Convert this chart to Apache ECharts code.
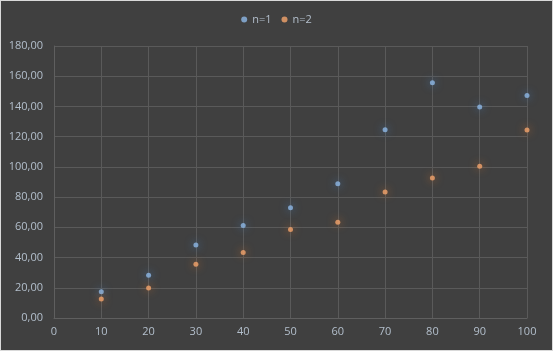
<!DOCTYPE html>
<html>
<head>
<meta charset="UTF-8">
<title>scatter</title>
<style>
html,body{margin:0;padding:0;background:#d9d9d9;}
#chart{width:551px;height:349px;border:1px solid #d9d9d9;background:#404040;}
</style>
</head>
<body>
<div id="chart"></div>
<script src="https://cdn.jsdelivr.net/npm/echarts@6/dist/echarts.min.js"></script>
<script>
var xValues = [10, 20, 30, 40, 50, 60, 70, 80, 90, 100];
var n1 = [17.3, 28.3, 48.3, 61.2, 73.0, 88.8, 124.5, 155.7, 139.6, 147.2];
var n2 = [12.6, 19.8, 35.6, 43.4, 58.6, 63.4, 83.3, 92.6, 100.4, 124.4];
var seriesNames = ['n=1', 'n=2'];

function pairs(ys){
    var out = [];
    for (var i = 0; i < xValues.length; i++) out.push([xValues[i], ys[i]]);
    return out;
}

var myChart = echarts.init(document.getElementById('chart'));
var labelColor = '#b3bfcc';
var option = {
    backgroundColor: '#404040',
    textStyle: {fontFamily: 'Open Sans'},
    legend: {
        top: 8,
        left: 'center',
        itemWidth: 6,
        itemHeight: 6,
        itemGap: 10,
        icon: 'circle',
        textStyle: {color: labelColor, fontSize: 11, fontFamily: 'Open Sans'},
        data: seriesNames
    },
    grid: {left: 53, right: 25, top: 45, bottom: 32},
    xAxis: {
        type: 'value',
        min: 0, max: 100, interval: 10,
        axisLine: {show: true, lineStyle: {color: '#5f5f5f'}},
        axisTick: {show: false},
        splitLine: {show: true, lineStyle: {color: '#5a5a5a'}},
        axisLabel: {color: labelColor, fontSize: 11, margin: 8}
    },
    yAxis: {
        type: 'value',
        min: 0, max: 180, interval: 20,
        axisLine: {show: true, lineStyle: {color: '#5f5f5f'}},
        axisTick: {show: false},
        splitLine: {show: true, lineStyle: {color: '#5a5a5a'}},
        axisLabel: {
            color: labelColor, fontSize: 11, margin: 11,
            formatter: function (v) { return v.toFixed(2).replace('.', ','); }
        }
    },
    series: [
        {
            name: seriesNames[0], type: 'scatter', symbolSize: 5,
            itemStyle: {color: '#8db8e6', shadowBlur: 8, shadowColor: 'rgba(70,140,220,0.9)'},
            data: pairs(n1)
        },
        {
            name: seriesNames[1], type: 'scatter', symbolSize: 5,
            itemStyle: {color: '#f4a46c', shadowBlur: 8, shadowColor: 'rgba(230,120,40,0.9)'},
            data: pairs(n2)
        }
    ]
};
myChart.setOption(option);
</script>
</body>
</html>
